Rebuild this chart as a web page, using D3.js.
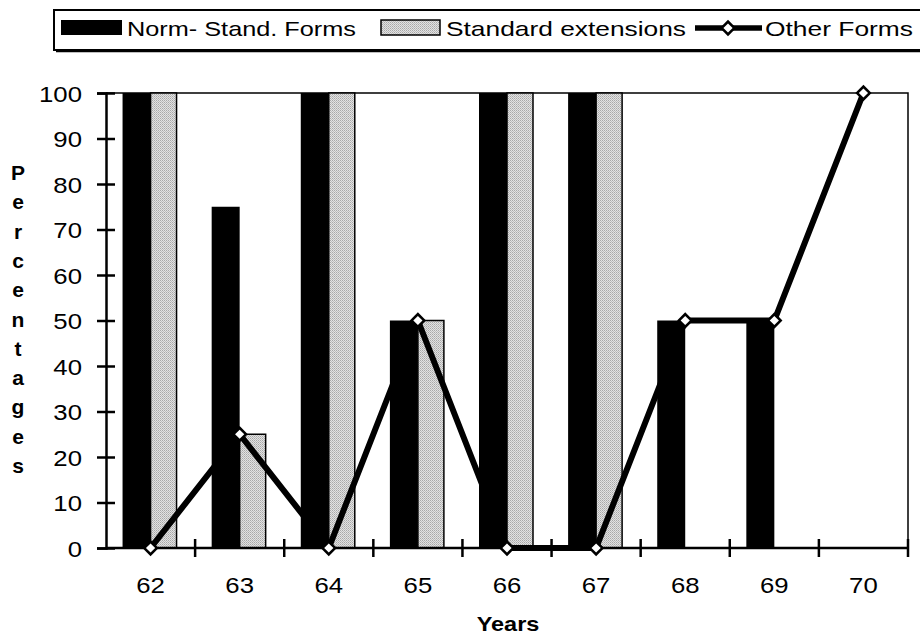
<!DOCTYPE html>
<html>
<head>
<meta charset="utf-8">
<script src="https://cdn.jsdelivr.net/npm/d3@7"></script>
<style>
  body { margin: 0; background: #fff; }
  svg { display: block; font-family: "Liberation Sans", Arial, sans-serif; }
</style>
</head>
<body>
<svg id="chart" width="920" height="636"></svg>
<script>
// data
const years = ["62", "63", "64", "65", "66", "67", "68", "69", "70"];
const normStand = [100, 75, 100, 50, 100, 100, 50, 50, 0];
const standardExt = [100, 25, 100, 50, 100, 100, 0, 0, 0];
const otherForms = [0, 25, 0, 50, 0, 0, 50, 50, 100];
const yTicks = [0, 10, 20, 30, 40, 50, 60, 70, 80, 90, 100];
const seriesNames = ["Norm- Stand. Forms", "Standard extensions", "Other Forms"];

const svg = d3.select("#chart");
const plot = { left: 106, right: 908, top: 93, bottom: 548 };
const stretch = 1.12; // the source font is a bit wider than Liberation Sans

// pattern for the dotted gray bars
const defs = svg.append("defs");
const pat = defs.append("pattern")
    .attr("id", "dots")
    .attr("width", 2).attr("height", 2)
    .attr("patternUnits", "userSpaceOnUse");
pat.append("rect").attr("width", 2).attr("height", 2).attr("fill", "#e2e2e2");
pat.append("rect").attr("width", 1).attr("height", 1).attr("fill", "#a8a8a8");
pat.append("rect").attr("x", 1).attr("y", 1).attr("width", 1).attr("height", 1).attr("fill", "#bdbdbd");

const x = d3.scaleBand().domain(years).range([plot.left, plot.right]);
const y = d3.scaleLinear().domain([0, 100]).range([plot.bottom, plot.top]);
const barW = 28;

// plot frame (top and right)
svg.append("path")
    .attr("d", `M${plot.left},${plot.top}H${plot.right}V${plot.bottom}`)
    .attr("fill", "none").attr("stroke", "#000").attr("stroke-width", 1.5);

// black bars
svg.append("g").selectAll("rect")
    .data(years)
    .join("rect")
    .attr("x", (d) => x(d) + x.bandwidth() / 2 - barW)
    .attr("width", barW)
    .attr("y", (d, i) => y(normStand[i]))
    .attr("height", (d, i) => y(0) - y(normStand[i]))
    .attr("fill", "#000");

// gray bars
svg.append("g").selectAll("rect")
    .data(years.filter((d, i) => standardExt[i] > 0))
    .join("rect")
    .attr("x", (d) => x(d) + x.bandwidth() / 2)
    .attr("width", barW - 2)
    .attr("y", (d) => y(standardExt[years.indexOf(d)]))
    .attr("height", (d) => y(0) - y(standardExt[years.indexOf(d)]))
    .attr("fill", "url(#dots)")
    .attr("stroke", "#000").attr("stroke-width", 1.5);

// y axis
const yAxis = svg.append("g")
    .attr("transform", `translate(${plot.left},0)`)
    .call(d3.axisLeft(y).tickValues(yTicks).tickSize(9).tickPadding(14));
yAxis.select(".domain").attr("stroke-width", 2.5);
yAxis.selectAll(".tick line").attr("x2", 9).attr("stroke-width", 2.5).attr("x1", -9);
yAxis.selectAll(".tick text")
    .attr("font-size", 23).attr("font-family", "Liberation Sans, Arial, sans-serif")
    .attr("fill", "#000").attr("dy", "0.36em")
    .attr("x", -24 / stretch)
    .attr("transform", `scale(${stretch},1)`);

// x axis with ticks between categories
const xAxis = svg.append("g").attr("transform", `translate(0,${plot.bottom})`);
xAxis.append("line")
    .attr("x1", plot.left).attr("x2", plot.right)
    .attr("stroke", "#000").attr("stroke-width", 2.5);
xAxis.selectAll(".sep")
    .data(years.slice(1).concat(["end"]))
    .join("line")
    .attr("x1", (d, i) => plot.left + x.bandwidth() * (i + 1))
    .attr("x2", (d, i) => plot.left + x.bandwidth() * (i + 1))
    .attr("y1", -9).attr("y2", 9)
    .attr("stroke", "#000").attr("stroke-width", 2.5);
xAxis.selectAll("text")
    .data(years)
    .join("text")
    .attr("transform", (d) => `translate(${x(d) + x.bandwidth() / 2},45) scale(${stretch},1)`)
    .attr("text-anchor", "middle")
    .attr("font-size", 23)
    .text((d) => d);

// Other Forms line
const line = d3.line()
    .x((d, i) => x(years[i]) + x.bandwidth() / 2)
    .y((d) => y(d));
svg.append("path")
    .datum(otherForms)
    .attr("d", line)
    .attr("fill", "none")
    .attr("stroke", "#000")
    .attr("stroke-width", 6)
    .attr("stroke-linejoin", "round");

svg.append("g").selectAll("path")
    .data(otherForms)
    .join("path")
    .attr("transform", (d, i) => `translate(${x(years[i]) + x.bandwidth() / 2},${y(d)}) rotate(45)`)
    .attr("d", d3.symbol().type(d3.symbolSquare).size(81))
    .attr("fill", "#fff")
    .attr("stroke", "#000")
    .attr("stroke-width", 2.5);

// axis titles
svg.append("text")
    .attr("transform", `translate(508,631) scale(${stretch},1)`)
    .attr("text-anchor", "middle")
    .attr("font-size", 21).attr("font-weight", "bold")
    .text("Years");

const yTitle = svg.append("text")
    .attr("text-anchor", "middle")
    .attr("font-size", 21).attr("font-weight", "bold");
yTitle.selectAll("tspan")
    .data("Percentages".split(""))
    .join("tspan")
    .attr("x", 18)
    .attr("y", (d, i) => 180 + i * 29.3)
    .text((d) => d);

// legend
const legend = svg.append("g");
legend.append("rect")
    .attr("x", 54).attr("y", 10).attr("width", 880).attr("height", 40)
    .attr("fill", "#fff").attr("stroke", "#000").attr("stroke-width", 2);
legend.append("line")
    .attr("x1", 56).attr("x2", 920).attr("y1", 51).attr("y2", 51)
    .attr("stroke", "#000").attr("stroke-width", 2.5);

legend.append("rect")
    .attr("x", 61).attr("y", 20).attr("width", 61).attr("height", 15)
    .attr("fill", "#000");
legend.append("rect")
    .attr("x", 381).attr("y", 20).attr("width", 59).attr("height", 15)
    .attr("fill", "url(#dots)").attr("stroke", "#000").attr("stroke-width", 1.5);
legend.append("line")
    .attr("x1", 695).attr("x2", 762).attr("y1", 28).attr("y2", 28)
    .attr("stroke", "#000").attr("stroke-width", 5.5);
legend.append("path")
    .attr("transform", "translate(728,28) rotate(45)")
    .attr("d", d3.symbol().type(d3.symbolSquare).size(81))
    .attr("fill", "#fff").attr("stroke", "#000").attr("stroke-width", 2.5);

const legendX = [127, 446, 765];
const legendW = [229, 240, 148];
legend.selectAll(".ltext")
    .data(seriesNames)
    .join("text")
    .attr("x", (d, i) => legendX[i])
    .attr("y", 36)
    .attr("font-size", 21)
    .attr("textLength", (d, i) => legendW[i])
    .attr("lengthAdjust", "spacingAndGlyphs")
    .text((d) => d);
</script>
</body>
</html>
